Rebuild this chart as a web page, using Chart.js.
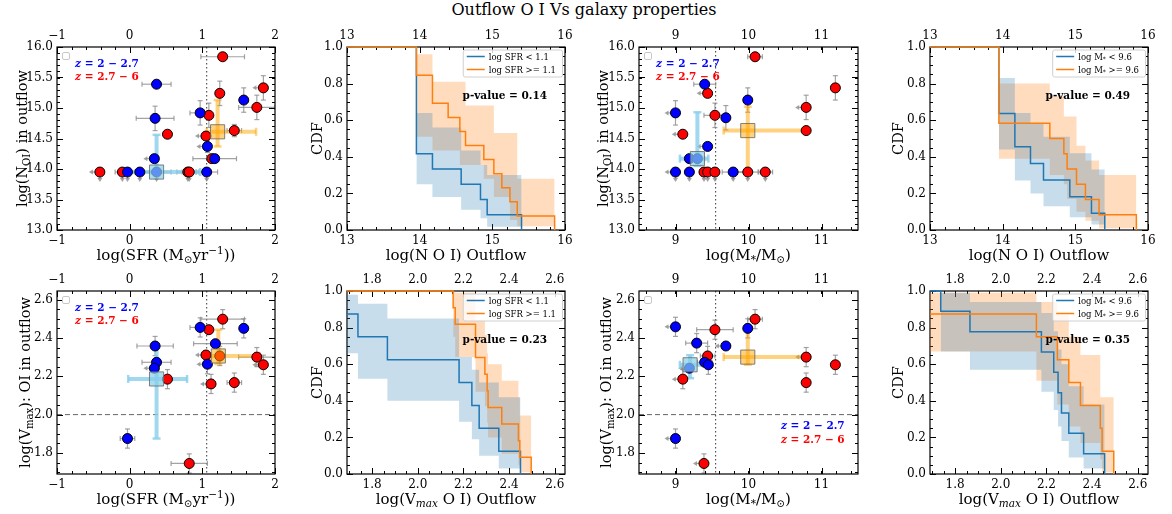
<!DOCTYPE html>
<html>
<head>
<meta charset="utf-8">
<title>Outflow O I Vs galaxy properties</title>
<script src="https://cdn.jsdelivr.net/npm/chart.js@4.4.1/dist/chart.umd.min.js"></script>
<style>
  body { margin: 0; background: #fff; }
  #wrap { position: relative; width: 1172px; height: 514px; overflow: hidden; }
  #title { position: absolute; left: 0; top: 0; width: 1168px; text-align: center;
           font: 16px 'DejaVu Serif', serif; line-height: 20px; color: #000; }
  canvas { position: absolute; }
</style>
</head>
<body>
<div id="wrap">
  <div id="title">Outflow O I Vs galaxy properties</div>
  <canvas id="c1"></canvas><canvas id="c2"></canvas><canvas id="c3"></canvas><canvas id="c4"></canvas>
  <canvas id="c5"></canvas><canvas id="c6"></canvas><canvas id="c7"></canvas><canvas id="c8"></canvas>
</div>
<script>
const SERIF = "'DejaVu Serif', serif";
const BLUE = '#1f77b4', ORANGE = '#ff7f0e';

// axis ranges and tick labels
const sfrRange = [-1, 2], sfrTicks = [-1, 0, 1, 2];
const massRange = [8.5, 11.5], massTicks = [9, 10, 11];
const nRange = [13, 16], nTicks = [13, 13.5, 14, 14.5, 15, 15.5, 16], nCdfTicks = [13, 14, 15, 16];
const vRange = [1.69, 2.645], vTicks = [1.8, 2.0, 2.2, 2.4, 2.6];
const cdfRange = [0, 1], cdfTicks = [0, 0.2, 0.4, 0.6, 0.8, 1.0];

// scatter points: [x, y, xerr, yerr, limit]  limit 1 = left arrow, 2 = down arrow, 3 = both
const nSfrBlue = [
  [0.37, 15.39, 0.2, 0, 0], [0.35, 14.83, 0.26, 0.2, 0], [0.97, 14.92, 0.14, 0.2, 0],
  [1.57, 15.13, 0, 0.2, 0], [1.07, 14.37, 0, 0.1, 1], [0.34, 14.17, 0, 0, 1],
  [1.17, 14.17, 0.3, 0, 0], [-0.03, 13.95, 0.1, 0, 2], [0.14, 13.95, 0.15, 0, 2],
  [0.37, 13.95, 0.2, 0, 2], [1.06, 13.95, 0.15, 0, 2]
];
const nSfrRed = [
  [1.28, 15.84, 0.3, 0.05, 0], [1.84, 15.33, 0, 0.2, 1], [1.24, 15.24, 0, 0.2, 0],
  [1.75, 15.01, 0.25, 0.2, 0], [1.09, 14.88, 0, 0.2, 0], [0.52, 14.57, 0, 0, 0],
  [1.05, 14.54, 0, 0, 1], [1.44, 14.63, 0.1, 0.1, 0], [1.13, 14.17, 0, 0, 0],
  [-0.41, 13.95, 0, 0, 3], [-0.10, 13.95, 0.1, 0, 2], [0.80, 13.95, 0.15, 0, 2], [0.82, 13.95, 0.1, 0, 2]
];
const nMassBlue = [
  [9.40, 15.39, 0.15, 0, 0], [9.0, 14.92, 0, 0.2, 1], [9.99, 15.13, 0, 0.2, 0],
  [9.69, 14.84, 0, 0.2, 0], [9.44, 14.37, 0, 0, 1], [9.19, 14.17, 0, 0, 0],
  [9.30, 14.17, 0.1, 0, 0], [9.0, 13.95, 0, 0, 3], [9.19, 13.95, 0, 0, 2], [9.79, 13.95, 0.15, 0, 2]
];
const nMassRed = [
  [10.09, 15.84, 0.1, 0, 0], [11.19, 15.33, 0, 0.2, 0], [9.44, 15.24, 0, 0, 1],
  [10.79, 15.01, 0, 0.2, 1], [9.54, 14.88, 0.15, 0.2, 0], [9.1, 14.57, 0, 0, 1],
  [10.79, 14.63, 0, 0.05, 0], [9.39, 13.95, 0, 0, 2], [9.44, 13.95, 0, 0, 2],
  [9.54, 13.95, 0, 0, 2], [9.99, 13.95, 0.15, 0, 2], [10.23, 13.95, 0.1, 0, 2]
];
const vSfrBlue = [
  [0.97, 2.455, 0.14, 0.05, 0], [1.57, 2.45, 0, 0.05, 0], [0.35, 2.358, 0.25, 0.05, 0],
  [1.18, 2.37, 0.3, 0, 0], [0.37, 2.273, 0.2, 0, 0], [0.34, 2.242, 0, 0, 1],
  [1.07, 2.263, 0, 0.05, 1], [-0.03, 1.875, 0.1, 0.05, 0]
];
const vSfrRed = [
  [1.28, 2.498, 0.3, 0.05, 0], [1.09, 2.443, 0, 0, 0], [1.05, 2.311, 0, 0, 1],
  [1.24, 2.306, 0, 0.05, 0], [1.75, 2.30, 0.25, 0.05, 0], [1.84, 2.26, 0, 0.05, 1],
  [0.52, 2.185, 0, 0.05, 0], [1.12, 2.16, 0, 0.05, 1], [1.44, 2.167, 0.1, 0.05, 0],
  [0.82, 1.745, 0.25, 0.05, 0]
];
const vMassBlue = [
  [9.0, 2.458, 0, 0.05, 1], [9.99, 2.45, 0, 0.05, 0], [9.29, 2.373, 0.15, 0.05, 0],
  [9.69, 2.358, 0, 0, 1], [9.40, 2.273, 0.1, 0, 0], [9.45, 2.26, 0, 0.05, 0],
  [9.19, 2.242, 0, 0, 1], [9.0, 1.875, 0, 0.05, 1]
];
const vMassRed = [
  [10.09, 2.498, 0.1, 0.05, 0], [9.54, 2.443, 0.25, 0.05, 0], [9.44, 2.306, 0.1, 0.05, 0],
  [10.79, 2.30, 0, 0.05, 1], [11.19, 2.26, 0, 0.05, 0], [9.1, 2.185, 0, 0.05, 1],
  [10.79, 2.167, 0, 0.05, 0], [9.39, 1.745, 0, 0.05, 1]
];

// sample medians with their spread
const nSfrMeanBlue = { x: 0.37, y: 13.95, xlo: -0.02, xhi: 0.97, ylo: 13.95, yhi: 14.56 };
const nSfrMeanOrange = { x: 1.21, y: 14.61, xlo: 1.06, xhi: 1.74, ylo: 14.37, yhi: 15.13 };
const nMassMeanBlue = { x: 9.30, y: 14.17, xlo: 9.06, xhi: 9.45, ylo: 14.05, yhi: 14.93 };
const nMassMeanOrange = { x: 9.99, y: 14.63, xlo: 9.66, xhi: 10.79, ylo: 13.95, yhi: 15.02 };
const vSfrMeanBlue = { x: 0.37, y: 2.186, xlo: -0.02, xhi: 0.79, ylo: 1.875, yhi: 2.358 };
const vSfrMeanOrange = { x: 1.22, y: 2.306, xlo: 1.12, xhi: 1.79, ylo: 2.264, yhi: 2.443 };
const vMassMeanBlue = { x: 9.2, y: 2.26, xlo: 9.06, xhi: 9.45, ylo: 2.19, yhi: 2.31 };
const vMassMeanOrange = { x: 9.99, y: 2.30, xlo: 9.66, xhi: 10.79, ylo: 2.26, yhi: 2.45 };

// survival curves: step x, level after step, band low/high for the segment that starts there
const nSfrLow = { x: [13, 13.955, 14.176, 14.571, 14.837, 14.929, 15.402],
  y: [1, 0.417, 0.333, 0.25, 0.167, 0.083, 0],
  lo: [null, 0.25, 0.18, 0.11, 0.064, 0.018], hi: [null, 0.64, 0.56, 0.435, 0.355, 0.30] };
const nSfrHigh = { x: [13, 13.955, 14.176, 14.392, 14.553, 14.631, 14.883, 15.021, 15.131, 15.242, 15.343, 15.857],
  y: [1, 0.846, 0.692, 0.615, 0.538, 0.462, 0.385, 0.308, 0.231, 0.154, 0.077, 0],
  lo: [null, 0.51, 0.435, 0.435, 0.355, 0.355, 0.28, 0.18, 0.18, 0.055, 0.02],
  hi: [null, 0.96, 0.81, 0.81, 0.81, 0.68, 0.68, 0.53, 0.53, 0.53, 0.28] };
const nMassLow = { x: [13, 13.948, 14.168, 14.383, 14.562, 14.924, 15.222, 15.405],
  y: [1, 0.636, 0.455, 0.364, 0.273, 0.182, 0.091, 0],
  lo: [null, 0.44, 0.27, 0.2, 0.13, 0.07, 0.03], hi: [null, 0.83, 0.64, 0.58, 0.51, 0.42, 0.33] };
const nMassHigh = { x: [13, 13.948, 14.649, 14.842, 14.887, 15.016, 15.139, 15.327, 15.84],
  y: [1, 0.583, 0.5, 0.417, 0.333, 0.25, 0.167, 0.083, 0],
  lo: [null, 0.39, 0.3, 0.25, 0.17, 0.1, 0.05, 0.01], hi: [null, 0.8, 0.73, 0.62, 0.62, 0.46, 0.38, 0.3] };
const vSfrLow = { x: [1.69, 1.738, 1.867, 2.181, 2.237, 2.269, 2.355, 2.45],
  y: [0.875, 0.75, 0.625, 0.5, 0.375, 0.25, 0.125, 0],
  lo: [0.66, 0.52, 0.40, 0.285, 0.19, 0.10, 0.03], hi: [0.98, 0.93, 0.85, 0.64, 0.57, 0.50, 0.42] };
const vSfrHigh = { x: [1.69, 2.155, 2.164, 2.253, 2.294, 2.304, 2.308, 2.368, 2.441, 2.447, 2.497],
  y: [1, 0.909, 0.818, 0.636, 0.545, 0.455, 0.364, 0.273, 0.182, 0.091, 0],
  lo: [null, 0.75, 0.64, 0.45, 0.37, 0.28, 0.2, 0.11, 0.05, 0.01],
  hi: [null, 1, 0.99, 0.84, 0.76, 0.66, 0.6, 0.51, 0.42, 0.32] };
const vMassLow = { x: [1.69, 1.737, 1.865, 2.178, 2.232, 2.251, 2.266, 2.298, 2.363, 2.455],
  y: [1, 0.889, 0.778, 0.667, 0.556, 0.444, 0.333, 0.222, 0.111, 0],
  lo: [null, 0.67, 0.57, 0.45, 0.35, 0.26, 0.18, 0.09, 0.03], hi: [null, 0.99, 0.94, 0.88, 0.78, 0.68, 0.6, 0.48, 0.38] };
const vMassHigh = { x: [1.69, 2.156, 2.248, 2.298, 2.349, 2.436, 2.444, 2.495],
  y: [0.875, 0.75, 0.625, 0.5, 0.375, 0.25, 0.125, 0],
  lo: [0.67, 0.51, 0.38, 0.26, 0.17, 0.08, 0.01], hi: [0.99, 0.94, 0.87, 0.75, 0.65, 0.42, 0.42] };

// text pieces: [text, style]  b bold, i italic, s subscript, p superscript
const sfrTitle = [['log(SFR (M'], ['\u2299', 's'], ['yr'], ['\u22121', 'p'], ['))']];
const massTitle = [['log(M'], ['*', 's'], ['/M'], ['\u2299', 's'], [')']];
const nTitle = [['log(N'], ['OI', 's'], [') in outflow']];
const vTitle = [['log(V'], ['max', 's'], ['): OI in outflow']];
const nCdfTitle = [['log(N O I) Outflow']];
const vCdfTitle = [['log(V'], ['max', 'si'], [' O I) Outflow']];
const cdfTitle = [['CDF']];
const zLow = [['z', 'bi'], [' = 2 \u2212 2.7', 'b']];
const zHigh = [['z', 'bi'], [' = 2.7 \u2212 6', 'b']];
const sfrLegend = [[['log SFR < 1.1']], [['log SFR >= 1.1']]];
const massLegend = [[['log M'], ['*', 's'], [' < 9.6']], [['log M'], ['*', 's'], [' >= 9.6']]];

const zTop = [{ segs: zLow, fx: 0.083, fy: 0.89, color: '#0000ff' }, { segs: zHigh, fx: 0.083, fy: 0.818, color: '#ff0000' }];
const zTop3 = [{ segs: zLow, fx: 0.078, fy: 0.89, color: '#0000ff' }, { segs: zHigh, fx: 0.078, fy: 0.818, color: '#ff0000' }];
const zBottom = [{ segs: zLow, fx: 0.648, fy: 0.246, color: '#0000ff' }, { segs: zHigh, fx: 0.648, fy: 0.168, color: '#ff0000' }];

const panels = {
  c1: { box: [57, 47, 218, 183], xr: sfrRange, xt: sfrTicks, xd: 0, xm: 0.2, yr: nRange, yt: nTicks, yd: 1, ym: 0.1,
        xTitle: sfrTitle, yTitle: nTitle, yOff: 35, blue: nSfrBlue, red: nSfrRed,
        mBlue: nSfrMeanBlue, mOrange: nSfrMeanOrange, vline: 1.06, notes: zTop, emptyBox: true },
  c2: { box: [347, 47, 218, 183], xr: nRange, xt: nCdfTicks, xd: 0, xm: 0.2, yr: cdfRange, yt: cdfTicks, yd: 1, ym: 0.05,
        xTitle: nCdfTitle, yTitle: cdfTitle, yOff: 30, cdf: true, low: nSfrLow, high: nSfrHigh,
        legend: sfrLegend, pval: 'p-value = 0.14' },
  c3: { box: [639, 47, 219, 183], xr: massRange, xt: massTicks, xd: 0, xm: 0.2, yr: nRange, yt: nTicks, yd: 1, ym: 0.1,
        xTitle: massTitle, yTitle: nTitle, yOff: 36, blue: nMassBlue, red: nMassRed,
        mBlue: nMassMeanBlue, mOrange: nMassMeanOrange, vline: 9.55, notes: zTop3, emptyBox: true },
  c4: { box: [930, 47, 218, 183], xr: nRange, xt: nCdfTicks, xd: 0, xm: 0.2, yr: cdfRange, yt: cdfTicks, yd: 1, ym: 0.05,
        xTitle: nCdfTitle, yTitle: cdfTitle, yOff: 32, cdf: true, low: nMassLow, high: nMassHigh,
        legend: massLegend, pval: 'p-value = 0.49' },
  c5: { box: [57, 291, 218, 183], xr: sfrRange, xt: sfrTicks, xd: 0, xm: 0.2, yr: vRange, yt: vTicks, yd: 1, ym: 0.05,
        xTitle: sfrTitle, yTitle: vTitle, yOff: 32, blue: vSfrBlue, red: vSfrRed,
        mBlue: vSfrMeanBlue, mOrange: vSfrMeanOrange, vline: 1.06, hline: 2.0, notes: zTop, emptyBox: true },
  c6: { box: [347, 291, 218, 183], xr: vRange, xt: vTicks, xd: 1, xm: 0.05, yr: cdfRange, yt: cdfTicks, yd: 1, ym: 0.05,
        xTitle: vCdfTitle, yTitle: cdfTitle, yOff: 30, cdf: true, low: vSfrLow, high: vSfrHigh,
        legend: sfrLegend, pval: 'p-value = 0.23' },
  c7: { box: [639, 291, 219, 183], xr: massRange, xt: massTicks, xd: 0, xm: 0.2, yr: vRange, yt: vTicks, yd: 1, ym: 0.05,
        xTitle: massTitle, yTitle: vTitle, yOff: 33, blue: vMassBlue, red: vMassRed,
        mBlue: vMassMeanBlue, mOrange: vMassMeanOrange, vline: 9.55, hline: 2.0, notes: zBottom, emptyBox: true },
  c8: { box: [930, 291, 218, 183], xr: vRange, xt: vTicks, xd: 1, xm: 0.05, yr: cdfRange, yt: cdfTicks, yd: 1, ym: 0.05,
        xTitle: vCdfTitle, yTitle: cdfTitle, yOff: 32, cdf: true, low: vMassLow, high: vMassHigh,
        legend: massLegend, pval: 'p-value = 0.35' }
};

function fmt(v, d) {
  const s = Math.abs(v).toFixed(d);
  return v < -1e-9 ? '\u2212' + s : s;
}

function font(size, st) {
  st = st || '';
  return (st.includes('i') ? 'italic ' : '') + (st.includes('b') ? 'bold ' : '') + size + 'px ' + SERIF;
}

function segSize(size, st) {
  return /[sp]/.test(st || '') ? size * 0.7 : size;
}

function richWidth(ctx, segs, size) {
  let w = 0;
  segs.forEach(([t, st]) => { ctx.font = font(segSize(size, st), st); w += ctx.measureText(t).width; });
  return w;
}

function drawRich(ctx, segs, x, y, size, color, align) {
  ctx.fillStyle = color || '#000';
  ctx.textBaseline = 'alphabetic';
  ctx.textAlign = 'left';
  if (align === 'center') x -= richWidth(ctx, segs, size) / 2;
  segs.forEach(([t, st]) => {
    st = st || '';
    ctx.font = font(segSize(size, st), st);
    let dy = 0;
    if (st.includes('s')) dy = size * 0.22;
    if (st.includes('p')) dy = -size * 0.4;
    ctx.fillText(t, x, y + dy);
    x += ctx.measureText(t).width;
  });
}

function seg(ctx, x1, y1, x2, y2) {
  ctx.beginPath(); ctx.moveTo(x1, y1); ctx.lineTo(x2, y2); ctx.stroke();
}

function head(ctx, x, y, dir) {
  ctx.beginPath();
  if (dir === 'left') { ctx.moveTo(x, y); ctx.lineTo(x + 4, y - 2.5); ctx.lineTo(x + 4, y + 2.5); }
  else { ctx.moveTo(x, y); ctx.lineTo(x - 2.5, y - 4); ctx.lineTo(x + 2.5, y - 4); }
  ctx.closePath(); ctx.fill();
}

function minors(range, step) {
  const out = [];
  for (let v = Math.ceil(range[0] / step - 1e-6) * step; v <= range[1] + 1e-9; v += step) out.push(v);
  return out;
}

// frame and inward ticks on all four sides
function drawFrame(chart, p) {
  const { ctx, chartArea: a } = chart;
  const sx = chart.scales.x, sy = chart.scales.y;
  ctx.save();
  ctx.strokeStyle = '#000'; ctx.lineWidth = 1;
  const xTick = (v, len) => {
    const px = Math.round(sx.getPixelForValue(v)) + 0.5;
    seg(ctx, px, a.bottom, px, a.bottom - len); seg(ctx, px, a.top, px, a.top + len);
  };
  const yTick = (v, len) => {
    const py = Math.round(sy.getPixelForValue(v)) + 0.5;
    seg(ctx, a.left, py, a.left + len, py); seg(ctx, a.right, py, a.right - len, py);
  };
  minors(p.xr, p.xm).forEach(v => xTick(v, 3));
  minors(p.yr, p.ym).forEach(v => yTick(v, 3));
  p.xt.forEach(v => xTick(v, 6));
  p.yt.forEach(v => yTick(v, 6));
  ctx.lineWidth = 1.2;
  ctx.strokeRect(a.left, a.top, a.width, a.height);
  ctx.restore();
}

const deco = {
  id: 'deco',
  beforeDatasetsDraw(chart) {
    const p = panels[chart.canvas.id];
    if (p.cdf) { drawFrame(chart, p); return; }
    const { ctx, chartArea: a } = chart;
    const sx = chart.scales.x, sy = chart.scales.y;
    ctx.save();
    ctx.beginPath(); ctx.rect(a.left, a.top, a.width, a.height); ctx.clip();
    ctx.lineWidth = 1;
    if (p.vline != null) {
      const px = sx.getPixelForValue(p.vline);
      ctx.strokeStyle = '#333'; ctx.setLineDash([1.5, 2.5]);
      seg(ctx, px, a.top, px, a.bottom);
    }
    if (p.hline != null) {
      const py = sy.getPixelForValue(p.hline);
      ctx.strokeStyle = '#666'; ctx.setLineDash([5, 3]);
      seg(ctx, a.left, py, a.right, py);
    }
    ctx.setLineDash([]);

    // measurement errors and limits
    ctx.strokeStyle = ctx.fillStyle = 'rgba(140,140,140,0.8)';
    ctx.lineWidth = 1.2;
    p.blue.concat(p.red).forEach(([x, y, ex, ey, lim]) => {
      const px = sx.getPixelForValue(x), py = sy.getPixelForValue(y);
      if (ex) {
        const l = sx.getPixelForValue(x - ex), r = sx.getPixelForValue(x + ex);
        seg(ctx, l, py, r, py); seg(ctx, l, py - 2.5, l, py + 2.5); seg(ctx, r, py - 2.5, r, py + 2.5);
      }
      if (ey) {
        const t = sy.getPixelForValue(y + ey), b = sy.getPixelForValue(y - ey);
        seg(ctx, px, t, px, b); seg(ctx, px - 2.5, t, px + 2.5, t); seg(ctx, px - 2.5, b, px + 2.5, b);
      }
      if (lim & 1) { seg(ctx, px, py, px - 8, py); head(ctx, px - 11, py, 'left'); }
      if (lim & 2) { seg(ctx, px, py, px, py + 7); head(ctx, px, py + 10, 'down'); }
    });

    // thick spread bars of the two sub-samples
    [[p.mBlue, 'rgba(135,206,235,0.8)'], [p.mOrange, 'rgba(255,165,0,0.5)']].forEach(([m, c]) => {
      const px = sx.getPixelForValue(m.x), py = sy.getPixelForValue(m.y);
      const l = sx.getPixelForValue(m.xlo), r = sx.getPixelForValue(m.xhi);
      const t = sy.getPixelForValue(m.yhi), b = sy.getPixelForValue(m.ylo);
      ctx.strokeStyle = c; ctx.lineWidth = 4;
      seg(ctx, l, py, r, py); seg(ctx, px, t, px, b);
      ctx.lineWidth = 2.5;
      seg(ctx, l, py - 4, l, py + 4); seg(ctx, r, py - 4, r, py + 4);
      seg(ctx, px - 4, t, px + 4, t); seg(ctx, px - 4, b, px + 4, b);
    });
    ctx.restore();
  },
  afterDatasetsDraw(chart) {
    const p = panels[chart.canvas.id];
    const { ctx, chartArea: a } = chart;
    if (!p.cdf) drawFrame(chart, p);
    ctx.save();

    if (p.emptyBox) {
      ctx.strokeStyle = '#c8c8c8'; ctx.lineWidth = 1;
      ctx.beginPath(); ctx.roundRect(a.left + 5.5, a.top + 5.5, 7, 7, 1.5); ctx.stroke();
    }
    (p.notes || []).forEach(n => {
      drawRich(ctx, n.segs, a.left + n.fx * a.width, a.bottom - n.fy * a.height, 10.5, n.color, 'left');
    });
    if (p.pval) {
      drawRich(ctx, [[p.pval, 'b']], a.left + 0.53 * a.width, a.bottom - 0.716 * a.height, 10.5, '#000', 'left');
    }
    if (p.legend) {
      const fs = 8.5;
      const tw = Math.max(...p.legend.map(s => richWidth(ctx, s, fs)));
      const w = 27 + tw + 5, h = 27, x0 = a.right - 3 - w, y0 = a.top + 2.5;
      ctx.fillStyle = 'rgba(255,255,255,0.8)'; ctx.strokeStyle = '#d0d0d0'; ctx.lineWidth = 1;
      ctx.beginPath(); ctx.roundRect(x0 + 0.5, y0 + 0.5, w, h, 2); ctx.fill(); ctx.stroke();
      p.legend.forEach((s, i) => {
        const yy = y0 + 7 + i * 13;
        ctx.strokeStyle = [BLUE, ORANGE][i]; ctx.lineWidth = 1.5;
        seg(ctx, x0 + 4, yy, x0 + 22, yy);
        drawRich(ctx, s, x0 + 26, yy + 3, fs, '#000', 'left');
      });
    }

    // axis titles
    drawRich(ctx, p.xTitle, (a.left + a.right) / 2, a.bottom + 30, 15, '#000', 'center');
    ctx.translate(a.left - p.yOff, (a.top + a.bottom) / 2);
    ctx.rotate(-Math.PI / 2);
    drawRich(ctx, p.yTitle, 0, 5, 14.5, '#000', 'center');
    ctx.restore();
  }
};

function axis(pos, range, ticks, dec, size) {
  return {
    type: 'linear', position: pos, min: range[0], max: range[1],
    afterBuildTicks: s => { s.ticks = ticks.map(v => ({ value: v })); },
    afterFit: s => { if (pos === 'left') s.width = 57; else s.height = size; },
    grid: { display: false, drawTicks: false },
    border: { display: false },
    ticks: { padding: 4, color: '#000', maxRotation: 0, autoSkip: false,
             font: { family: SERIF, size: 12 }, callback: v => fmt(v, dec) }
  };
}

function scatterSets(p) {
  const pts = arr => arr.map(([x, y]) => ({ x, y }));
  const square = (m, fill) => ({
    data: [{ x: m.x, y: m.y }], pointStyle: 'rect', pointRadius: 10, backgroundColor: fill,
    borderColor: 'rgba(100,100,100,0.8)', borderWidth: 1, order: 0
  });
  return [
    square(p.mOrange, 'rgba(255,165,0,0.5)'),
    square(p.mBlue, 'rgba(135,206,235,0.7)'),
    { data: pts(p.blue), backgroundColor: '#0000ff', borderColor: '#000', borderWidth: 1, pointRadius: 5, order: 1 },
    { data: pts(p.red), backgroundColor: '#ff0000', borderColor: '#000', borderWidth: 1, pointRadius: 5, order: 1 }
  ];
}

function bandPts(xs, vals) {
  const out = [];
  const k = vals.findIndex(v => v != null);
  for (let i = k; i < vals.length; i++) out.push({ x: xs[i], y: vals[i] });
  out.push({ x: xs[xs.length - 1], y: vals[vals.length - 1] });
  return out;
}

function cdfSets(p) {
  const line = (s, c) => ({
    data: s.x.map((x, i) => ({ x, y: s.y[i] })), stepped: true, borderColor: c,
    borderWidth: 1.5, pointRadius: 0, fill: false, order: 0, clip: 2
  });
  const band = (s, c) => [
    { data: bandPts(s.x, s.lo), stepped: true, borderColor: 'rgba(0,0,0,0)', borderWidth: 0, pointRadius: 0, fill: false, order: 1 },
    { data: bandPts(s.x, s.hi), stepped: true, borderColor: 'rgba(0,0,0,0)', borderWidth: 0, pointRadius: 0, fill: '-1', backgroundColor: c, order: 1 }
  ];
  return [line(p.high, ORANGE), line(p.low, BLUE),
          ...band(p.low, 'rgba(31,119,180,0.25)'), ...band(p.high, 'rgba(255,127,14,0.27)')];
}

for (const id in panels) {
  const p = panels[id];
  const [l, t, w, h] = p.box;
  const cv = document.getElementById(id);
  cv.width = 57 + w + 12;
  cv.height = 30 + h + 40;
  cv.style.left = (l - 57) + 'px';
  cv.style.top = (t - 30) + 'px';
  cv.style.width = cv.width + 'px';
  cv.style.height = cv.height + 'px';
  new Chart(cv, {
    type: p.cdf ? 'line' : 'scatter',
    data: { datasets: p.cdf ? cdfSets(p) : scatterSets(p) },
    options: {
      responsive: false, animation: false, events: [],
      layout: { padding: { left: 0, right: 12, top: 0, bottom: 0 } },
      plugins: { legend: { display: false }, tooltip: { enabled: false } },
      scales: {
        x: axis('bottom', p.xr, p.xt, p.xd, 40),
        xt: axis('top', p.xr, p.xt, p.xd, 30),
        y: axis('left', p.yr, p.yt, p.yd)
      }
    },
    plugins: [deco]
  });
}
</script>
</body>
</html>
